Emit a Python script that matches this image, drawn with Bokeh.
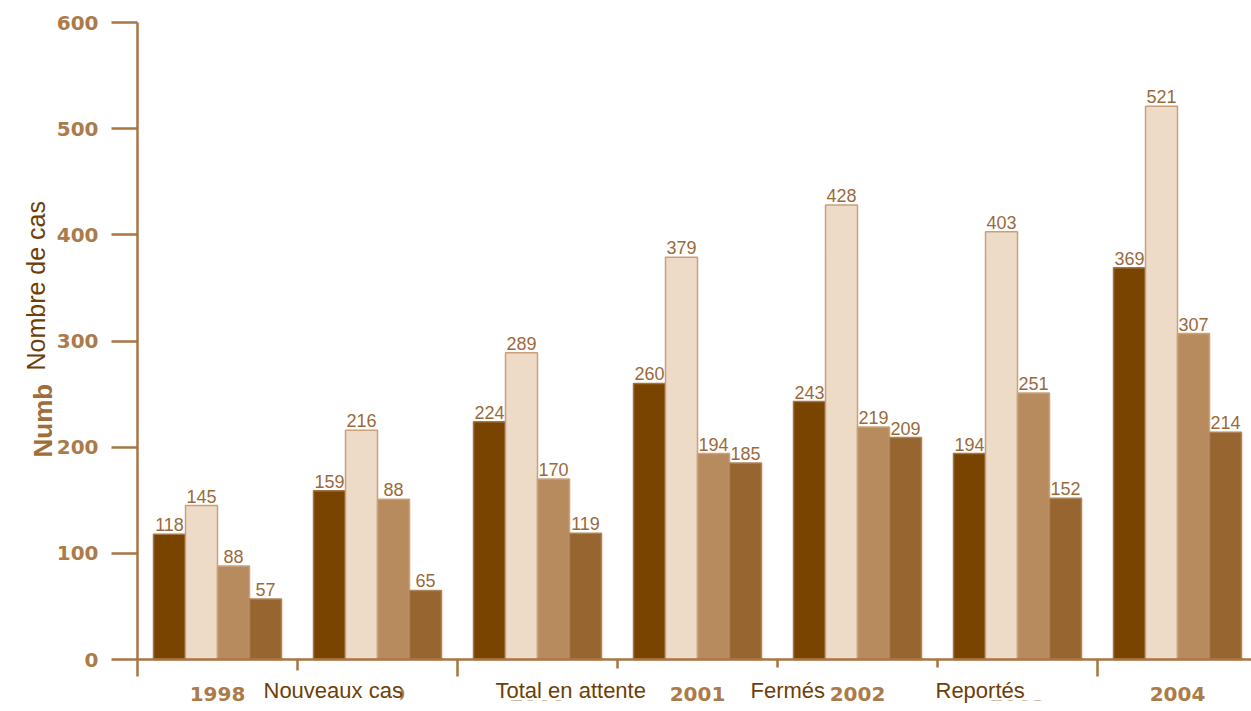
from bokeh.plotting import figure
from bokeh.models import FixedTicker, Label, Range1d, ColumnDataSource, BoxAnnotation
from bokeh.core.properties import value
from bokeh.embed import file_html
from bokeh.resources import INLINE
import math

# ---- data ----
years = ["1998", "1999", "2000", "2001", "2002", "2003", "2004"]
nouveaux = [118, 159, 224, 260, 243, 194, 369]
attente = [145, 216, 289, 379, 428, 403, 521]
fermes = [88, 151, 170, 194, 219, 251, 307]
fermes_labels = ["88", "88", "170", "194", "219", "251", "307"]
reportes = [57, 65, 119, 185, 209, 152, 214]
series_names = ["Nouveaux cas", "Total en attente", "Fermés", "Reportés"]
y_ticks = [0, 100, 200, 300, 400, 500, 600]

fills = ["#784400", "#eddbc8", "#b88b5f", "#976530"]
edges = ["#a3744a", "#c9a07a", "#c9a27e", "#b0845a"]
axis_col = "#a87543"
tick_txt = "#ab7b4a"
val_txt = "#9a6a3c"

W, H = 1251, 711
X0, Y0 = 137, 659          # pixel position of the origin
GROUP_PX = 160.0           # pixels per year group
UNIT_PX = 637.0 / 600.0    # pixels per case


def sx(px):
    return (px - X0) / GROUP_PX


def sy(py):
    return (Y0 - py) / UNIT_PX


p = figure(width=W, height=H, output_backend="svg", toolbar_location=None,
           x_range=Range1d(sx(0), sx(W)), y_range=Range1d(sy(H), sy(0)),
           min_border_left=0, min_border_right=0, min_border_top=0,
           min_border_bottom=0)
p.outline_line_color = None
p.xgrid.visible = False
p.ygrid.visible = False
p.background_fill_color = "white"
p.border_fill_color = "white"

series = [nouveaux, attente, fermes, reportes]
labels = [[str(v) for v in nouveaux], [str(v) for v in attente], fermes_labels,
          [str(v) for v in reportes]]
n = len(years)
for k, vals in enumerate(series):
    xs = [i + 0.2 + 0.2 * k for i in range(n)]
    src = ColumnDataSource(dict(x=xs, top=vals, lab=labels[k]))
    p.vbar(x="x", top="top", bottom=0, width=0.2, source=src,
           fill_color=fills[k], line_color=edges[k], line_width=1.5)
    p.text(x="x", y="top", text="lab", source=src, text_align="center",
           text_baseline="bottom", y_offset=-3, text_color=val_txt,
           text_font=value("Liberation Sans"), text_font_size="18px")

# y axis (fixed at x = 0)
ya = p.yaxis[0]
ya.fixed_location = 0
ya.bounds = (0, 600)
ya.ticker = FixedTicker(ticks=y_ticks)
ya.axis_line_color = axis_col
ya.axis_line_width = 2.5
ya.major_tick_line_color = axis_col
ya.major_tick_line_width = 2.5
ya.major_tick_out = 26
ya.major_tick_in = 0
ya.minor_tick_line_color = None
ya.major_label_standoff = 13
ya.major_label_text_font = "DejaVu Sans"
ya.major_label_text_font_style = "bold"
ya.major_label_text_font_size = "20px"
ya.major_label_text_color = tick_txt

# x axis (fixed at y = 0)
xa = p.xaxis[0]
xa.fixed_location = 0
xa.bounds = (0, n)
centers = [i + 0.5 for i in range(n)]
xa.ticker = FixedTicker(ticks=centers, minor_ticks=list(range(n + 1)))
xa.major_label_overrides = {c: y for c, y in zip(centers, years)}
xa.axis_line_color = axis_col
xa.axis_line_width = 2.5
xa.major_tick_line_color = None
xa.major_tick_out = 0
xa.major_tick_in = 0
xa.minor_tick_line_color = axis_col
xa.minor_tick_line_width = 2.5
xa.minor_tick_out = 17
xa.minor_tick_in = 0
xa.major_label_standoff = 10
xa.major_label_text_font = "DejaVu Sans"
xa.major_label_text_font_style = "bold"
xa.major_label_text_font_size = "20px"
xa.major_label_text_color = tick_txt

# white boxes pasted over the bottom labels, then the French legend texts
cover_boxes = [(258, 400, 670, 702), (490, 645, 668, 700),
               (745, 825, 667, 701), (930, 1060, 667, 700)]
for l, r, t, b in cover_boxes:
    p.add_layout(BoxAnnotation(left=sx(l), right=sx(r), top=sy(t), bottom=sy(b),
                               fill_color="white", fill_alpha=1.0,
                               line_color=None))

legend_pos = [263, 495, 750, 935]
for name, px in zip(series_names, legend_pos):
    p.add_layout(Label(x=sx(px), y=sy(690), text=name, text_align="left",
                       text_baseline="alphabetic",
                       text_font="Liberation Sans", text_font_size="22px",
                       text_color="#6e3f05"))

# y title: residual bold fragment and overlaid French title
p.add_layout(Label(x=sx(42), y=sy(457), text="Numb", angle=math.pi / 2,
                   text_align="left", text_baseline="alphabetic",
                   text_font="Liberation Sans", text_font_style="bold",
                   text_font_size="26px", text_color="#a06c38"))
p.add_layout(Label(x=sx(35), y=sy(370), text="Nombre de cas", angle=math.pi / 2,
                   text_align="left", text_baseline="alphabetic",
                   text_font="Liberation Sans", text_font_size="25px",
                   text_color="#6e3f05"))

open("out.html", "w").write(file_html(p, INLINE))
